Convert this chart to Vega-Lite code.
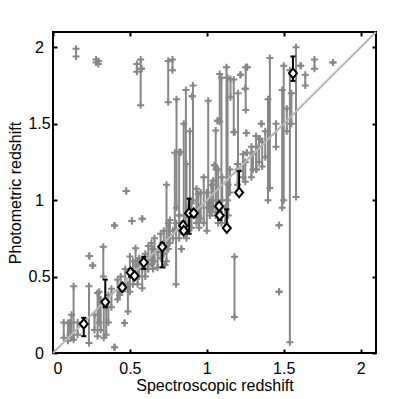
{
 "$schema": "https://vega.github.io/schema/vega-lite/v6.json",
 "width": 323, "height": 321,
 "autosize": {"type": "none"},
 "padding": {"left": 53, "top": 32, "right": 39, "bottom": 46},
 "background": "white",
 "config": {
  "view": {"stroke": "black", "strokeWidth": 2},
  "axis": {"grid": false, "domain": false, "tickColor": "black", "tickWidth": 2, "tickSize": -4,
   "labelFont": "Liberation Sans", "labelFontSize": 16, "labelColor": "black",
   "titleFont": "Liberation Sans", "titleFontSize": 16, "titleFontWeight": "normal", "titleColor": "black"}
 },
 "datasets": {
  "gray": [
   {"x":0.15,"lo":1.94,"hi":1.99},{"x":0.28,"lo":1.90,"hi":1.92},{"x":0.295,"lo":1.89,"hi":1.91},
   {"x":0.545,"lo":1.84,"hi":1.89},{"x":0.57,"lo":1.62,"hi":1.92},{"x":0.575,"lo":1.86,"hi":1.86},
   {"x":0.749,"lo":1.64,"hi":1.91},{"x":0.777,"lo":1.85,"hi":1.92},{"x":0.803,"lo":0.95,"hi":1.66},
   {"x":0.864,"lo":0.80,"hi":1.72},{"x":0.91,"lo":1.00,"hi":1.75},{"x":0.905,"lo":1.68,"hi":1.68},
   {"x":1.009,"lo":0.95,"hi":1.65},{"x":1.058,"lo":0.90,"hi":1.456},{"x":1.084,"lo":1.514,"hi":1.826},
   {"x":1.095,"lo":0.85,"hi":1.80},{"x":1.128,"lo":0.82,"hi":1.87},{"x":1.135,"lo":1.0,"hi":1.80},
   {"x":1.154,"lo":1.673,"hi":1.793},{"x":1.175,"lo":1.444,"hi":1.79},{"x":1.203,"lo":1.20,"hi":1.70},
   {"x":1.219,"lo":1.82,"hi":1.82},{"x":1.253,"lo":1.59,"hi":1.87},{"x":1.262,"lo":1.869,"hi":1.869},
   {"x":1.25,"lo":1.728,"hi":1.728},{"x":1.257,"lo":1.44,"hi":1.44},{"x":1.26,"lo":1.31,"hi":1.31},
   {"x":1.344,"lo":1.401,"hi":1.401},{"x":1.355,"lo":1.499,"hi":1.499},{"x":1.398,"lo":1.0,"hi":1.66},
   {"x":1.41,"lo":1.08,"hi":1.93},{"x":1.47,"lo":0.835,"hi":0.835},{"x":1.47,"lo":0.40,"hi":0.40},
   {"x":1.49,"lo":0.95,"hi":1.72},{"x":1.50,"lo":1.0,"hi":1.88},{"x":1.54,"lo":0.07,"hi":1.85},
   {"x":1.58,"lo":1.02,"hi":2.0},{"x":1.61,"lo":1.88,"hi":1.88},{"x":1.64,"lo":1.75,"hi":1.82},
   {"x":1.70,"lo":1.86,"hi":1.92},{"x":1.82,"lo":1.90,"hi":1.90},{"x":1.32,"lo":1.2,"hi":1.42},
   {"x":1.34,"lo":1.25,"hi":1.40},{"x":1.36,"lo":1.22,"hi":1.38},{"x":1.07,"lo":1.52,"hi":1.52},
   {"x":1.05,"lo":1.229,"hi":1.229},{"x":1.18,"lo":1.446,"hi":1.446},{"x":1.18,"lo":0.235,"hi":0.63},
   {"x":1.06,"lo":1.0,"hi":1.2},
   {"x":0.738,"lo":0.60,"hi":1.10},{"x":0.792,"lo":0.80,"hi":1.31},{"x":0.82,"lo":0.90,"hi":1.314},
   {"x":0.829,"lo":1.314,"hi":1.314},{"x":0.868,"lo":0.75,"hi":1.237},{"x":0.933,"lo":0.85,"hi":1.074},
   {"x":0.944,"lo":0.90,"hi":1.041},{"x":0.98,"lo":0.85,"hi":1.15},{"x":1.0,"lo":0.80,"hi":1.05},
   {"x":1.041,"lo":0.95,"hi":1.129},{"x":1.074,"lo":0.85,"hi":1.20},{"x":1.139,"lo":0.90,"hi":1.10},
   {"x":1.2,"lo":1.1,"hi":1.237},{"x":1.236,"lo":1.15,"hi":1.30},{"x":1.29,"lo":1.15,"hi":1.35},
   {"x":1.323,"lo":1.2,"hi":1.35},{"x":0.95,"lo":0.82,"hi":0.95},{"x":1.02,"lo":0.90,"hi":1.0},
   {"x":0.76,"lo":0.72,"hi":0.87},{"x":0.80,"lo":0.45,"hi":0.85},{"x":0.835,"lo":0.68,"hi":0.68},
   {"x":0.868,"lo":0.90,"hi":0.90},{"x":0.727,"lo":0.575,"hi":0.575},{"x":0.78,"lo":0.75,"hi":0.80},
   {"x":1.12,"lo":0.85,"hi":0.95},
   {"x":0.07,"lo":0.10,"hi":0.20},{"x":0.097,"lo":0.08,"hi":0.196},{"x":0.11,"lo":0.12,"hi":0.2},
   {"x":0.134,"lo":0.087,"hi":0.436},{"x":0.16,"lo":0.12,"hi":0.2},{"x":0.234,"lo":0.065,"hi":0.436},
   {"x":0.236,"lo":0.634,"hi":0.634},{"x":0.258,"lo":0.573,"hi":0.573},{"x":0.27,"lo":0.15,"hi":0.25},
   {"x":0.29,"lo":0.11,"hi":0.392},{"x":0.31,"lo":0.15,"hi":0.35},{"x":0.327,"lo":0.50,"hi":0.695},
   {"x":0.346,"lo":0.12,"hi":0.30},{"x":0.36,"lo":0.2,"hi":0.38},{"x":0.40,"lo":0.037,"hi":0.037},
   {"x":0.40,"lo":0.834,"hi":0.834},{"x":0.433,"lo":0.38,"hi":0.38},{"x":0.465,"lo":0.196,"hi":0.196},
   {"x":0.476,"lo":1.06,"hi":1.06},{"x":0.487,"lo":0.272,"hi":0.45},{"x":0.50,"lo":0.40,"hi":0.632},
   {"x":0.513,"lo":0.863,"hi":0.863},{"x":0.537,"lo":0.57,"hi":0.686},{"x":0.55,"lo":0.45,"hi":0.60},
   {"x":0.58,"lo":0.878,"hi":0.878},{"x":0.58,"lo":0.423,"hi":0.55},{"x":0.60,"lo":0.50,"hi":0.65},
   {"x":0.617,"lo":0.55,"hi":0.61},{"x":0.65,"lo":0.55,"hi":0.68},{"x":0.68,"lo":0.56,"hi":0.66},
   {"x":0.38,"lo":0.30,"hi":0.42},{"x":0.42,"lo":0.35,"hi":0.48},{"x":0.44,"lo":0.40,"hi":0.50},
   {"x":0.47,"lo":0.42,"hi":0.55},{"x":0.52,"lo":0.45,"hi":0.60},{"x":0.56,"lo":0.50,"hi":0.62},
   {"x":0.62,"lo":0.55,"hi":0.70},{"x":0.64,"lo":0.58,"hi":0.72},{"x":0.66,"lo":0.60,"hi":0.75},
   {"x":0.70,"lo":0.62,"hi":0.78},{"x":0.72,"lo":0.65,"hi":0.80},{"x":0.75,"lo":0.68,"hi":0.85},
   {"x":0.82,"lo":0.75,"hi":0.90},{"x":0.88,"lo":0.80,"hi":0.95},{"x":0.90,"lo":0.82,"hi":0.98},
   {"x":0.96,"lo":0.88,"hi":1.05},{"x":1.03,"lo":0.92,"hi":1.10},{"x":1.10,"lo":1.0,"hi":1.15},
   {"x":1.15,"lo":1.05,"hi":1.2},{"x":1.25,"lo":1.12,"hi":1.25},{"x":1.30,"lo":1.2,"hi":1.3},
   {"x":1.38,"lo":1.28,"hi":1.45},{"x":1.45,"lo":1.35,"hi":1.5},{"x":1.52,"lo":1.45,"hi":1.6},
   {"x":1.55,"lo":1.5,"hi":1.7},{"x":0.85,"lo":0.78,"hi":1.5},{"x":0.89,"lo":0.82,"hi":1.45},
   {"x":0.12,"lo":0.10,"hi":0.25},{"x":0.30,"lo":0.20,"hi":0.40},{"x":0.33,"lo":0.10,"hi":0.32}
  ],
  "black": [
   {"x":0.20,"y":0.19,"lo":0.11,"hi":0.23},{"x":0.34,"y":0.333,"lo":0.30,"hi":0.48},
   {"x":0.45,"y":0.43,"lo":0.41,"hi":0.45},{"x":0.505,"y":0.527,"lo":0.50,"hi":0.55},
   {"x":0.53,"y":0.505,"lo":0.49,"hi":0.52},{"x":0.59,"y":0.593,"lo":0.55,"hi":0.63},
   {"x":0.71,"y":0.695,"lo":0.56,"hi":0.72},{"x":0.846,"y":0.834,"lo":0.80,"hi":0.86},
   {"x":0.85,"y":0.80,"lo":0.78,"hi":0.82},{"x":0.885,"y":0.915,"lo":0.78,"hi":1.01},
   {"x":0.915,"y":0.915,"lo":0.89,"hi":0.93},{"x":1.08,"y":0.96,"lo":0.92,"hi":0.98},
   {"x":1.084,"y":0.90,"lo":0.87,"hi":0.92},{"x":1.13,"y":0.817,"lo":0.817,"hi":0.94},
   {"x":1.21,"y":1.05,"lo":1.05,"hi":1.19},{"x":1.56,"y":1.83,"lo":1.78,"hi":1.94}
  ],
  "diag": [{"x":0,"y":0},{"x":2.1,"y":2.1}]
 },
 "layer": [
  {"data": {"name": "gray"}, "mark": {"type": "rule", "color": "#878787", "strokeWidth": 2},
   "encoding": {
    "x": {"field": "x", "type": "quantitative", "scale": {"domain": [0, 2.1], "nice": false},
     "axis": {"orient": "bottom", "values": [0, 0.5, 1, 1.5, 2], "labelExpr": "'' + datum.value", "labelPadding": 11, "title": "Spectroscopic redshift", "titlePadding": 1}},
    "y": {"field": "lo", "type": "quantitative", "scale": {"domain": [0, 2.1], "nice": false},
     "axis": {"orient": "left", "values": [0, 0.5, 1, 1.5, 2], "labelExpr": "'' + datum.value", "labelAlign": "center", "labelPadding": 18, "title": "Photometric redshift", "titlePadding": 4}},
    "y2": {"field": "hi"}
   }},
  {"data": {"name": "gray"}, "mark": {"type": "point", "shape": "M-1,0L1,0M0,-1L0,1", "filled": false, "color": "#878787", "strokeWidth": 2, "size": 49, "opacity": 1},
   "encoding": {"x": {"field": "x", "type": "quantitative", "axis": null}, "y": {"field": "lo", "type": "quantitative", "axis": null}}},
  {"data": {"name": "gray"}, "mark": {"type": "point", "shape": "M-1,0L1,0M0,-1L0,1", "filled": false, "color": "#878787", "strokeWidth": 2, "size": 49, "opacity": 1},
   "encoding": {"x": {"field": "x", "type": "quantitative", "axis": null}, "y": {"field": "hi", "type": "quantitative", "axis": null}}},
  {"data": {"name": "diag"}, "mark": {"type": "line", "color": "#b8b8b8", "strokeWidth": 2},
   "encoding": {
    "x": {"field": "x", "type": "quantitative", "axis": {"orient": "top", "values": [0, 0.5, 1, 1.5, 2], "labels": false, "title": null}},
    "y": {"field": "y", "type": "quantitative", "axis": {"orient": "right", "values": [0, 0.5, 1, 1.5, 2], "labels": false, "title": null}}
   }},
  {"data": {"name": "black"}, "mark": {"type": "rule", "color": "black", "strokeWidth": 2},
   "encoding": {"x": {"field": "x", "type": "quantitative", "axis": null}, "y": {"field": "lo", "type": "quantitative", "axis": null}, "y2": {"field": "hi"}}},
  {"data": {"name": "black"}, "mark": {"type": "point", "shape": "M-1,0L1,0", "filled": false, "color": "black", "strokeWidth": 2, "size": 25, "opacity": 1},
   "encoding": {"x": {"field": "x", "type": "quantitative", "axis": null}, "y": {"field": "lo", "type": "quantitative", "axis": null}}},
  {"data": {"name": "black"}, "mark": {"type": "point", "shape": "M-1,0L1,0", "filled": false, "color": "black", "strokeWidth": 2, "size": 25, "opacity": 1},
   "encoding": {"x": {"field": "x", "type": "quantitative", "axis": null}, "y": {"field": "hi", "type": "quantitative", "axis": null}}},
  {"data": {"name": "black"}, "mark": {"type": "point", "shape": "M0,-1.2L1,0L0,1.2L-1,0Z", "filled": true, "fill": "white", "stroke": "black", "strokeWidth": 2, "size": 64, "opacity": 1},
   "encoding": {"x": {"field": "x", "type": "quantitative", "axis": null}, "y": {"field": "y", "type": "quantitative", "axis": null}}}
 ],
 "resolve": {"axis": {"x": "independent", "y": "independent"}}
}
